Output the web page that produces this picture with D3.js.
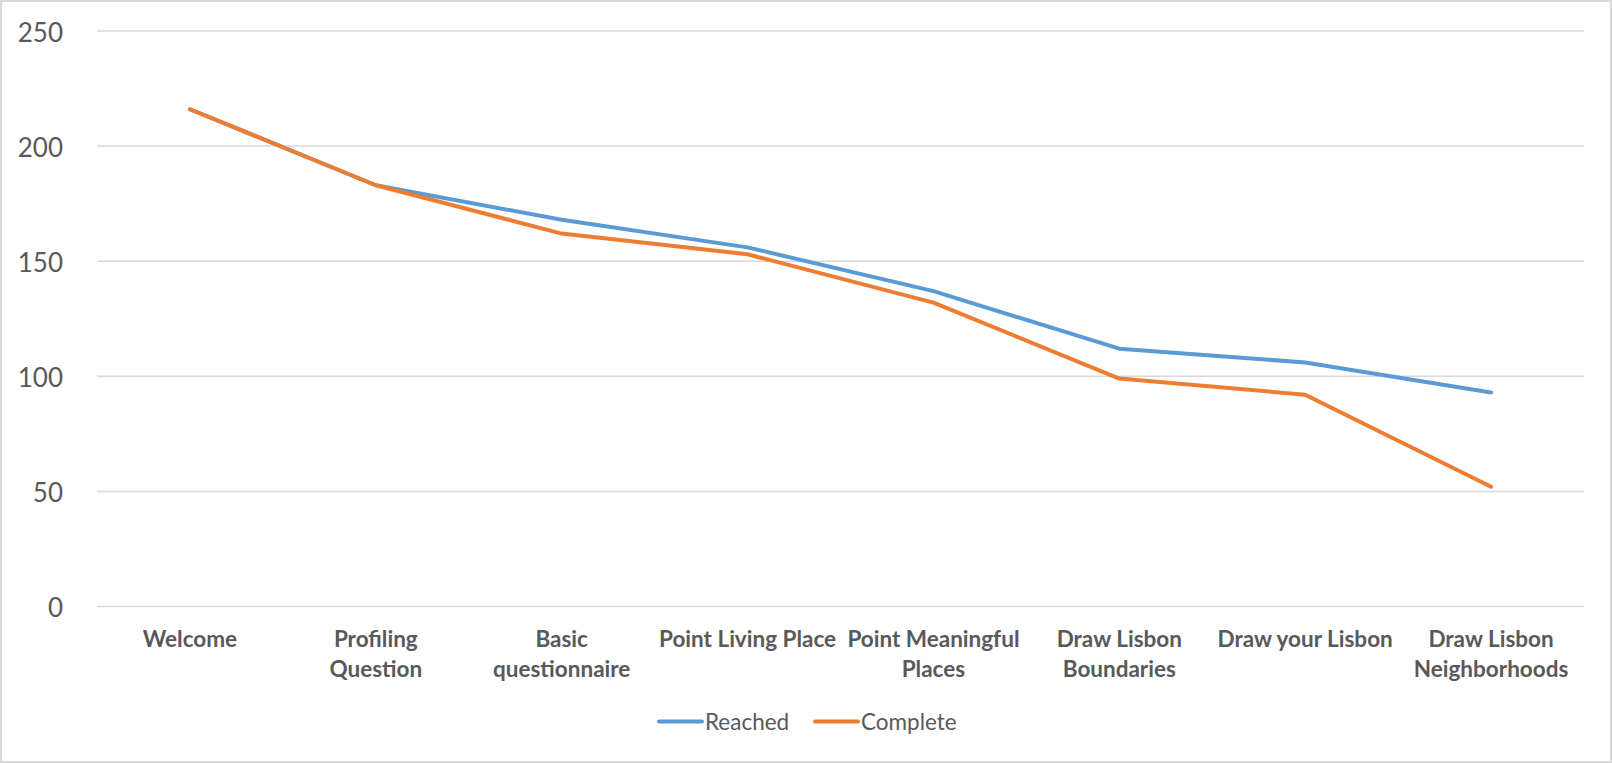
<!DOCTYPE html>
<html><head><meta charset="utf-8">
<script src="https://cdn.jsdelivr.net/npm/d3@7"></script>
<style>body{margin:0;background:#fff}svg{display:block}</style>
</head><body>
<script>
const categories = [["Welcome"],["Profiling","Question"],["Basic","questionnaire"],["Point Living Place"],["Point Meaningful","Places"],["Draw Lisbon","Boundaries"],["Draw your Lisbon"],["Draw Lisbon","Neighborhoods"]];
const reached = [216,183,168,156,137,112,106,93];
const complete = [216,183,162,153,132,99,92,52];
const yTicks = [0,50,100,150,200,250];
const seriesNames = ["Reached","Complete"];
const colors = ["#5B9BD5","#ED7D31"];

const W=1612,H=763;
const svg=d3.select("body").append("svg").attr("width",W).attr("height",H);
svg.append("rect").attr("x",1).attr("y",1).attr("width",W-2).attr("height",H-2).attr("fill","#fff").attr("stroke","#D9D9D9").attr("stroke-width",2);

const x=d3.scaleBand().domain(d3.range(categories.length)).range([97,1584]);
const y=d3.scaleLinear().domain([0,250]).range([606.5,31]);

const g=svg.append("g");
g.selectAll("line.grid").data(yTicks).join("line").attr("class","grid")
 .attr("x1",97).attr("x2",1584).attr("y1",d=>y(d)).attr("y2",d=>y(d))
 .attr("stroke","#D9D9D9").attr("stroke-width",1.5);

const yAxis=d3.axisLeft(y).tickValues(yTicks).tickSize(0).tickPadding(0);
const ya=svg.append("g").attr("transform","translate(63,0)").call(yAxis);
ya.select(".domain").remove();
ya.selectAll("text").attr("font-family","Lato").attr("font-size",26).attr("fill","#595959").attr("dy","0.4em");

const xa=svg.append("g");
categories.forEach((lines,i)=>{
  const t=xa.append("text").attr("x",x(i)+x.bandwidth()/2).attr("y",647).attr("text-anchor","middle")
   .attr("font-family","Lato").attr("font-weight","bold").attr("font-size",22.5).attr("fill","#595959");
  lines.forEach((l,j)=>t.append("tspan").attr("x",x(i)+x.bandwidth()/2).attr("dy",j?29.5:0).text(l));
});

const line=d3.line().x((d,i)=>x(i)+x.bandwidth()/2).y(d=>y(d));
[reached,complete].forEach((s,k)=>{
  svg.append("path").attr("d",line(s)).attr("fill","none").attr("stroke",colors[k]).attr("stroke-width",4)
   .attr("stroke-linecap","round").attr("stroke-linejoin","round");
});

const legX=[659,815];
seriesNames.forEach((n,k)=>{
  svg.append("line").attr("x1",legX[k]).attr("x2",legX[k]+43).attr("y1",721.5).attr("y2",721.5)
   .attr("stroke",colors[k]).attr("stroke-width",4).attr("stroke-linecap","round");
  svg.append("text").attr("x",legX[k]+46).attr("y",729.5).attr("font-family","Lato").attr("font-size",22.5)
   .attr("fill","#595959").text(n);
});
</script>
</body></html>
